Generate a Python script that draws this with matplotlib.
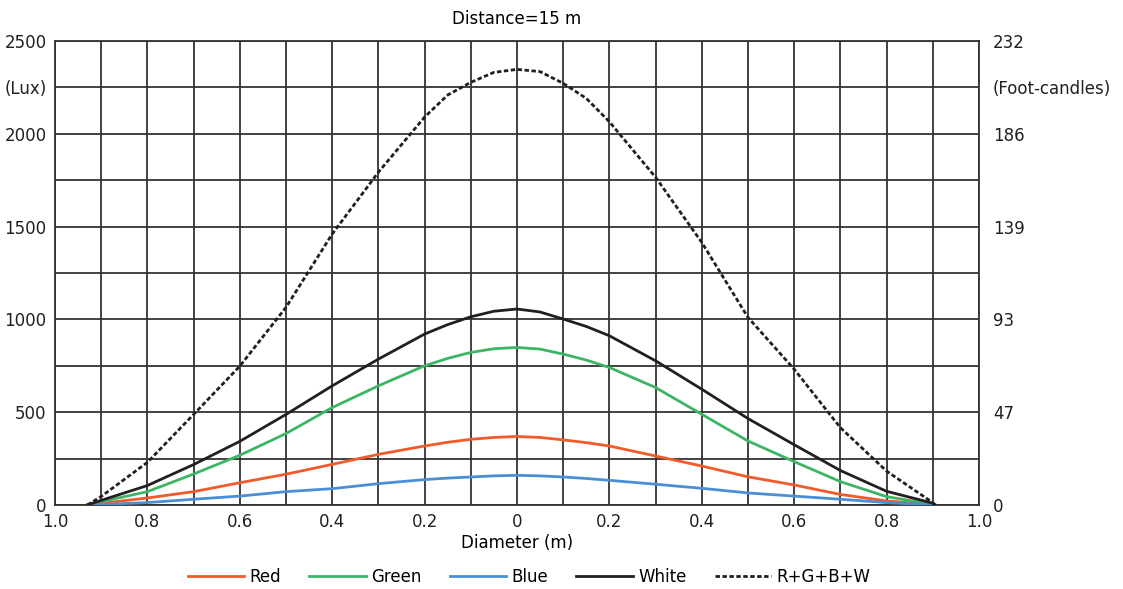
import matplotlib
matplotlib.use("Agg")
import matplotlib.pyplot as plt

x_pos = [-0.93, -0.9, -0.8, -0.7, -0.6, -0.5, -0.4, -0.3, -0.2, -0.15, -0.1,
         -0.05, 0.0, 0.05, 0.1, 0.15, 0.2, 0.3, 0.4, 0.5, 0.6, 0.7, 0.8, 0.9,
         0.905]

# illuminance (lux)
red = [0, 9, 38, 72, 120, 166, 219, 273, 318, 338, 354,
       364, 369, 364, 351, 336, 318, 264, 210, 152, 108, 57, 22, 2, 0]
green = [0, 18, 72, 167, 268, 385, 525, 642, 750, 790, 822,
         842, 849, 840, 813, 781, 741, 633, 489, 345, 234, 126, 45, 4, 0]
blue = [0, 3, 13, 31, 48, 72, 88, 115, 137, 145, 151,
        157, 160, 157, 151, 143, 133, 112, 90, 65, 48, 31, 13, 1, 0]
white = [0, 25, 105, 218, 343, 488, 642, 786, 921, 972, 1014,
         1044, 1056, 1040, 1002, 962, 912, 777, 624, 466, 325, 186, 74, 10, 0]
total = [0, 46, 230, 488, 748, 1065, 1460, 1793, 2090, 2209, 2277,
         2331, 2347, 2335, 2272, 2191, 2065, 1766, 1415, 1011, 732, 417, 183, 13, 0]

lux_ticks = [0, 500, 1000, 1500, 2000, 2250, 2500]
lux_labels = ["0", "500", "1000", "1500", "2000", "(Lux)", "2500"]
fc_labels = ["0", "47", "93", "139", "186", "(Foot-candles)", "232"]
x_ticks = [-1.0, -0.8, -0.6, -0.4, -0.2, 0.0, 0.2, 0.4, 0.6, 0.8, 1.0]
x_labels = ["1.0", "0.8", "0.6", "0.4", "0.2", "0", "0.2", "0.4", "0.6", "0.8", "1.0"]

plt.rcParams["font.family"] = ["DejaVu Sans"]
plt.rcParams["font.size"] = 12

fig = plt.figure(figsize=(11.23, 5.89), dpi=100)
ax = fig.add_axes([0.049, 0.1426, 0.8227, 0.7878])

# grid
for gx in [i / 10 for i in range(-10, 11)]:
    ax.axvline(gx, color="#333333", lw=1.3, zorder=1)
for gy in range(0, 2501, 250):
    ax.axhline(gy, color="#333333", lw=1.3, zorder=1)

ax.plot(x_pos, red, color="#f15a29", lw=2.0, zorder=3, label="Red")
ax.plot(x_pos, green, color="#3cb565", lw=2.0, zorder=3, label="Green")
ax.plot(x_pos, blue, color="#4a8fd4", lw=2.0, zorder=3, label="Blue")
ax.plot(x_pos, white, color="#231f20", lw=2.0, zorder=4, label="White")
ax.plot(x_pos, total, color="#231f20", lw=2.0, ls=(0, (1.6, 0.9)),
        zorder=4, label="R+G+B+W")

ax.set_xlim(-1.0, 1.0)
ax.set_ylim(0, 2500)
ax.set_xticks(x_ticks)
ax.set_xticklabels(x_labels)
ax.set_yticks(lux_ticks)
ax.set_yticklabels(lux_labels)
ax.tick_params(length=0, pad=6, colors="#231f20")
for s in ax.spines.values():
    s.set_color("#333333")
    s.set_linewidth(1.3)

ax2 = ax.twinx()
ax2.set_ylim(0, 2500)
ax2.set_yticks(lux_ticks)
ax2.set_yticklabels(fc_labels)
ax2.tick_params(length=0, pad=10, colors="#231f20")
for s in ax2.spines.values():
    s.set_visible(False)

ax.set_title("Distance=15 m", fontsize=12, pad=12)
ax.set_xlabel("Diameter (m)", fontsize=12, labelpad=2)

fig.legend(loc="center", bbox_to_anchor=(0.471, 0.02), ncol=5, frameon=False,
           fontsize=12, handlelength=3.4, handletextpad=0.3, columnspacing=1.7)

fig.savefig("out.png", dpi=100)
